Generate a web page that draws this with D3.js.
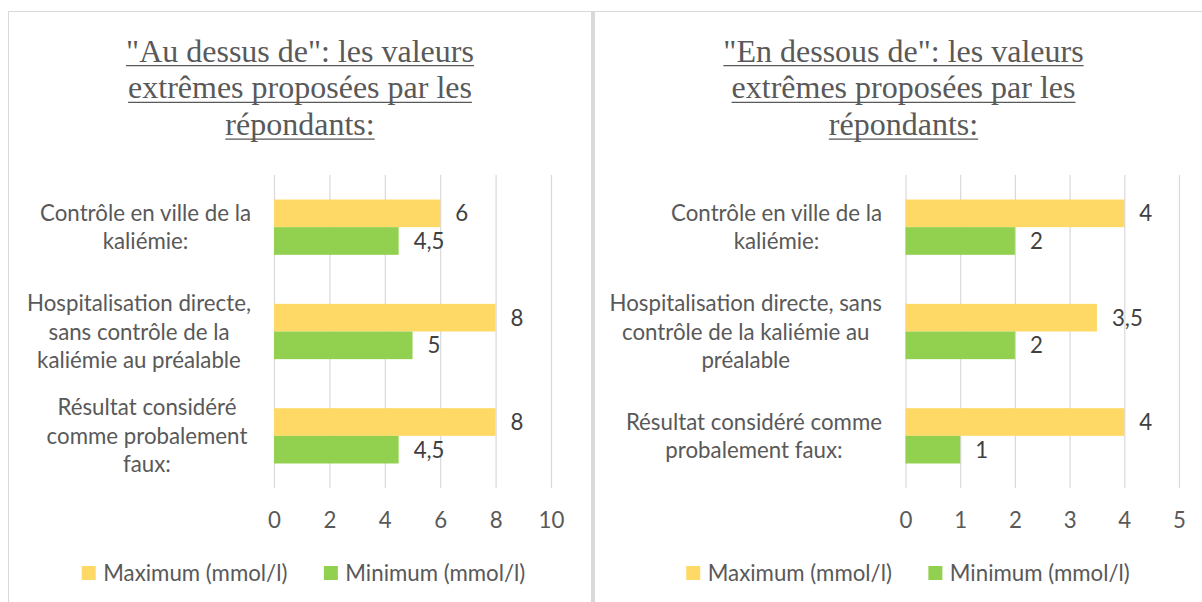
<!DOCTYPE html>
<html><head><meta charset="utf-8">
<script src="https://cdn.jsdelivr.net/npm/d3@7"></script>
<style>body{margin:0;background:#fff} svg{display:block}</style>
</head><body><svg id="c" width="1202" height="602"></svg>
<script>
const seriesNames = ["Maximum (mmol/l)", "Minimum (mmol/l)"];
const seriesColors = ["#FFD966", "#92D050"];
const titleLeft = ['"Au dessus de": les valeurs', 'extrêmes proposées par les', 'répondants:'];
const titleRight = ['"En dessous de": les valeurs', 'extrêmes proposées par les', 'répondants:'];
const categoriesLeft = ["Contrôle en ville de la\nkaliémie:", "Hospitalisation directe,\nsans contrôle de la\nkaliémie au préalable", "Résultat considéré\ncomme probalement\nfaux:"];
const categoriesRight = ["Contrôle en ville de la\nkaliémie:", "Hospitalisation directe, sans\ncontrôle de la kaliémie au\npréalable", "Résultat considéré comme\nprobalement faux:"];
const maxLeft = [6, 8, 8];
const minLeft = [4.5, 5, 4.5];
const maxRight = [4, 3.5, 4];
const minRight = [2, 2, 1];
const ticksLeft = [0, 2, 4, 6, 8, 10];
const ticksRight = [0, 1, 2, 3, 4, 5];

const svg = d3.select("#c");
const SANS = "Lato, 'Open Sans', sans-serif";
const SERIF = "'Liberation Serif', 'Times New Roman', serif";

// calibrate sans font size to match Calibri 24px widths
const probe = svg.append("text").attr("font-family", SANS).attr("font-size", 24).text("Contrôle en ville de la");
const pw = probe.node().getComputedTextLength();
probe.remove();
const FS = 24 * 211 / pw;

// borders
svg.append("rect").attr("x", 8.5).attr("y", 11.5).attr("width", 583).attr("height", 700)
  .attr("fill", "none").attr("stroke", "#D9D9D9").attr("stroke-width", 1);
svg.append("rect").attr("x", 594.5).attr("y", 11.5).attr("width", 700).attr("height", 700)
  .attr("fill", "none").attr("stroke", "#D9D9D9").attr("stroke-width", 1);
svg.append("rect").attr("x", 591).attr("y", 11).attr("width", 3.5).attr("height", 700).attr("fill", "#D9D9D9");

const fmt = v => String(v).replace(".", ",");

function drawPanel(cfg) {
  const g = svg.append("g");
  // title
  cfg.title.forEach((line, i) => {
    const y = 61.7 + i * 36.7;
    const t = g.append("text").attr("x", cfg.cx).attr("y", y).attr("text-anchor", "middle")
      .attr("font-family", SERIF).attr("font-size", 32).attr("fill", "#595959").text(line);
    const w = t.node().getComputedTextLength();
    g.append("line").attr("x1", cfg.cx - w / 2).attr("x2", cfg.cx + w / 2)
      .attr("y1", y + 4).attr("y2", y + 4).attr("stroke", "#595959").attr("stroke-width", 1.3);
  });

  const x = d3.scaleLinear().domain([cfg.ticks[0], cfg.ticks[cfg.ticks.length - 1]]).range(cfg.xr);
  const yTop = 175, yBot = 488;
  const y = d3.scaleBand().domain(cfg.cats).range([yTop, yBot]).paddingInner(0.47).paddingOuter(0.235);
  const ys = d3.scaleBand().domain(seriesNames).range([0, y.bandwidth()]);

  // axis + gridlines
  const tickPad = 528 - yBot - 0.71 * FS;
  const ax = g.append("g").attr("transform", `translate(0,${yBot})`)
    .call(d3.axisBottom(x).tickValues(cfg.ticks).tickSize(-(yBot - yTop)).tickPadding(tickPad).tickFormat(fmt));
  ax.select(".domain").remove();
  ax.selectAll(".tick line").attr("stroke", "#D9D9D9").attr("stroke-width", 1.2);
  ax.selectAll(".tick text").attr("font-family", SANS).attr("font-size", FS).attr("fill", "#595959");

  // bars
  const series = [cfg.max, cfg.min];
  series.forEach((vals, si) => {
    const name = seriesNames[si];
    g.selectAll(null).data(vals).enter().append("rect")
      .attr("x", x(0)).attr("y", (d, i) => y(cfg.cats[i]) + ys(name))
      .attr("width", d => x(d) - x(0)).attr("height", ys.bandwidth())
      .attr("fill", seriesColors[si]);
    g.selectAll(null).data(vals).enter().append("text")
      .attr("x", d => x(d) + 15).attr("y", (d, i) => y(cfg.cats[i]) + ys(name) + ys.bandwidth() / 2)
      .attr("dy", "0.36em").attr("font-family", SANS).attr("font-size", FS).attr("fill", "#404040")
      .text(fmt);
  });

  // category labels
  const lh = 28.4;
  cfg.cats.forEach(cat => {
    const lines = cat.split("\n");
    const t = g.append("text").attr("font-family", SANS).attr("font-size", FS).attr("fill", "#595959")
      .attr("text-anchor", "middle");
    const tsp = lines.map(l => t.append("tspan").text(l));
    const W = d3.max(tsp, s => s.node().getComputedTextLength());
    const cx = cfg.labelRight - W / 2;
    const cy = y(cat) + y.bandwidth() / 2;
    const y0 = cy - (lines.length - 1) * lh / 2;
    tsp.forEach((s, i) => s.attr("x", cx).attr("y", y0 + i * lh).attr("dy", "0.36em"));
  });

  // legend (centered)
  const ly = 573;
  const lg = g.append("g");
  let lx = 0;
  seriesNames.forEach((n, i) => {
    lg.append("rect").attr("x", lx).attr("y", ly - 7).attr("width", 14).attr("height", 14).attr("fill", seriesColors[i]);
    const t = lg.append("text").attr("x", lx + 21.5).attr("y", ly).attr("dy", "0.36em")
      .attr("font-family", SANS).attr("font-size", FS).attr("fill", "#595959").text(n);
    const end = lx + 21.5 + t.node().getComputedTextLength();
    lx = end + (i < seriesNames.length - 1 ? 36.5 : 0);
  });
  lg.attr("transform", `translate(${cfg.legendCx - lx / 2},0)`);
}

drawPanel({ title: titleLeft, cx: 300, xr: [274, 551], ticks: ticksLeft, cats: categoriesLeft,
  max: maxLeft, min: minLeft, labelRight: 251, legendCx: 303.5 });
drawPanel({ title: titleRight, cx: 903.5, xr: [905.5, 1179], ticks: ticksRight, cats: categoriesRight,
  max: maxRight, min: minRight, labelRight: 882, legendCx: 908 });
</script></body></html>
